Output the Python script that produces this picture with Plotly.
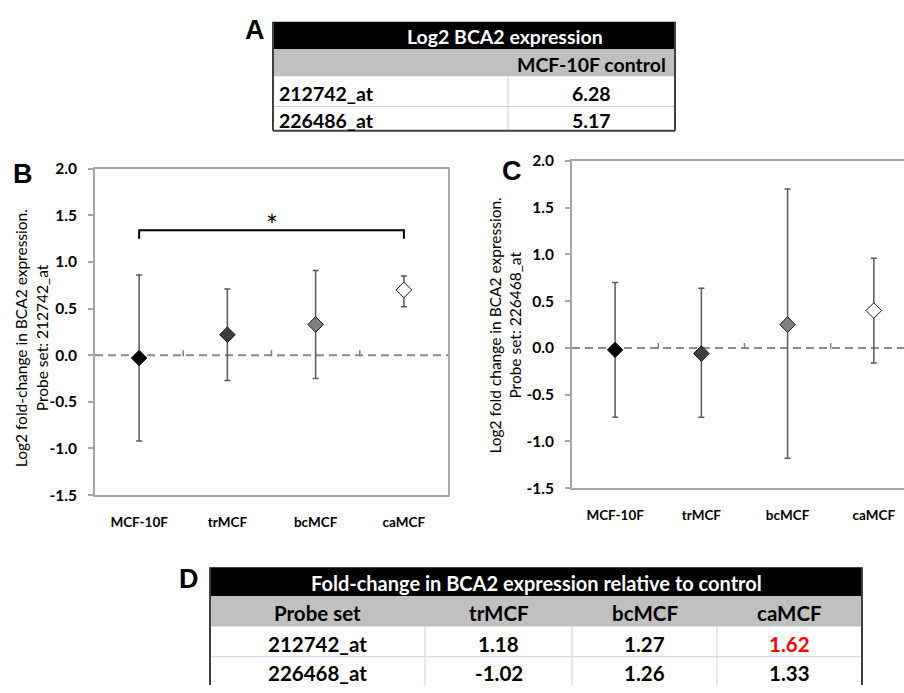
import plotly.graph_objects as go

W, H = 904, 693

# ---------------- data ----------------
categories = ["MCF-10F", "trMCF", "bcMCF", "caMCF"]

b_mean = [-0.03, 0.22, 0.33, 0.70]
b_low = [-0.92, -0.27, -0.25, 0.52]
b_high = [0.86, 0.71, 0.91, 0.85]

c_mean = [-0.02, -0.06, 0.25, 0.40]
c_low = [-0.74, -0.74, -1.18, -0.16]
c_high = [0.70, 0.64, 1.70, 0.96]

marker_colors = ["#000000", "#404040", "#7f7f7f", "#ffffff"]
y_ticks = [-1.5, -1.0, -0.5, 0.0, 0.5, 1.0, 1.5, 2.0]

bracket_top = 1.34
bracket_foot = 1.25
star_y = 1.40

tableA_title = "Log2 BCA2 expression"
tableA_column = "MCF-10F control"
tableA_probes = ["212742_at", "226486_at"]
tableA_values = [6.28, 5.17]

tableD_title = "Fold-change in BCA2 expression relative to control"
tableD_columns = ["Probe set", "trMCF", "bcMCF", "caMCF"]
tableD_probes = ["212742_at", "226468_at"]
tableD_trMCF = [1.18, -1.02]
tableD_bcMCF = [1.27, 1.26]
tableD_caMCF = [1.62, 1.33]
tableD_significant = [[False, False, True], [False, False, False]]

# ---------------- helpers ----------------
FONT = "Lato"
FRAME = "#a6a6a6"


def px(x):
    return x / W


def py(y):
    return 1 - y / H


shapes = []
annotations = []


def rect(x0, y0, x1, y1, fill):
    shapes.append(dict(type="rect", xref="paper", yref="paper",
                       x0=px(x0), x1=px(x1), y0=py(y1), y1=py(y0),
                       fillcolor=fill, line=dict(width=0), layer="above"))


def hline(x0, x1, y, color, width):
    shapes.append(dict(type="line", xref="paper", yref="paper",
                       x0=px(x0), x1=px(x1), y0=py(y), y1=py(y),
                       line=dict(color=color, width=width), layer="above"))


def vline(x, y0, y1, color, width):
    shapes.append(dict(type="line", xref="paper", yref="paper",
                       x0=px(x), x1=px(x), y0=py(y0), y1=py(y1),
                       line=dict(color=color, width=width), layer="above"))


def text(x, y, s, size=20, color="#000000", bold=True, xanchor="center", family=FONT):
    annotations.append(dict(x=px(x), y=py(y), xref="paper", yref="paper",
                            text=s, showarrow=False, xanchor=xanchor, yanchor="middle",
                            font=dict(family=family, size=size, color=color,
                                      weight="bold" if bold else "normal")))


GRID = "#c9d1e6"
OUTLINE = "#404040"

# ---------------- table A ----------------
aL, aR, aS = 273, 675, 508
aRows = [12, 40, 68, 99, 124]
rect(aL, aRows[0], aR, aRows[1], "#000000")
rect(aL, aRows[1], aR, aRows[2], "#c0c0c0")
hline(aL, aR, aRows[3], GRID, 1)
vline(aS, aRows[2], aRows[4], GRID, 1)
vline(aL, aRows[0], aRows[4], OUTLINE, 2)
vline(aR, aRows[0], aRows[4], OUTLINE, 2)
hline(aL, aR, aRows[4], OUTLINE, 2)
text(505, 27, tableA_title, size=19.5, color="#ffffff")
text((aS + aR) / 2, 56, tableA_column, size=19.5)
for i, (p, v) in enumerate(zip(tableA_probes, tableA_values)):
    yc = (aRows[2 + i] + aRows[3 + i]) / 2 + 2
    text(aL + 4, yc, p, size=19.5, xanchor="left")
    text((aS + aR) / 2, yc, f"{v:.2f}", size=19.5)

# ---------------- table D ----------------
dL, dR = 210, 862
dCols = [210, 425, 572, 717, 862]
dRows = [572, 602, 633, 664, 693]
rect(dL, dRows[0], dR, dRows[1], "#000000")
rect(dL, dRows[1], dR, dRows[2], "#c0c0c0")
hline(dL, dR, dRows[3], GRID, 1)
for cx in dCols[1:-1]:
    vline(cx, dRows[2], dRows[4], GRID, 1)
vline(dL, dRows[0], dRows[4], OUTLINE, 2)
vline(dR, dRows[0], dRows[4], OUTLINE, 2)
text((dL + dR) / 2, 588, tableD_title, size=20, color="#ffffff")
for j, c in enumerate(tableD_columns):
    text((dCols[j] + dCols[j + 1]) / 2, 619, c, size=20.5)
for i, p in enumerate(tableD_probes):
    yc = (dRows[2 + i] + dRows[3 + i]) / 2 + 2
    text((dCols[0] + dCols[1]) / 2, yc, p, size=20.5)
    vals = [tableD_trMCF[i], tableD_bcMCF[i], tableD_caMCF[i]]
    for j, v in enumerate(vals):
        col = "#ff0000" if tableD_significant[i][j] else "#000000"
        text((dCols[j + 1] + dCols[j + 2]) / 2, yc, f"{v:.2f}", size=20.5, color=col)

# ---------------- panel letters ----------------
for letter, x, y in [("A", 255, 21), ("B", 23, 168), ("C", 512, 165), ("D", 189, 584)]:
    text(x, y, letter, size=27, family="Liberation Sans")

# ---------------- charts ----------------
fig = go.Figure()


def panel(mean, low, high, xa, ya):
    fig.add_trace(go.Scatter(
        x=categories, y=mean, mode="markers", xaxis=xa, yaxis=ya,
        marker=dict(symbol="diamond", size=12, color=marker_colors,
                    line=dict(color="#1a1a1a", width=1)),
        error_y=dict(type="data", symmetric=False,
                     array=[h - m for h, m in zip(high, mean)],
                     arrayminus=[m - l for m, l in zip(mean, low)],
                     color="#595959", thickness=1.5, width=3),
        showlegend=False, hoverinfo="x+y"))
    xr = "x" if xa == "x" else "x2"
    yr = "y" if ya == "y" else "y2"
    shapes.append(dict(type="line", xref=xr + " domain", yref=yr, x0=0, x1=1, y0=0, y1=0,
                       line=dict(color="#8c8c8c", width=2, dash="8px,5px"), layer="below"))
    for k in range(1, len(categories)):
        shapes.append(dict(type="line", xref=xr, yref=yr, ysizemode="pixel", yanchor=0,
                           x0=k - 0.5, x1=k - 0.5, y0=-1, y1=5,
                           line=dict(color="#7f7f7f", width=1.5), layer="above"))


panel(b_mean, b_low, b_high, "x", "y")
panel(c_mean, c_low, c_high, "x2", "y2")

# bracket + star on panel B
fig.add_trace(go.Scatter(
    x=[categories[0], categories[0], categories[-1], categories[-1]],
    y=[bracket_foot, bracket_top, bracket_top, bracket_foot],
    mode="lines", line=dict(color="#000000", width=2), xaxis="x", yaxis="y",
    showlegend=False, hoverinfo="skip"))
annotations.append(dict(x=1.5, y=star_y, xref="x", yref="y", text="*", showarrow=False,
                        yanchor="middle", font=dict(family=FONT, size=28, color="#000000")))

# y-axis titles
for x, y, s in [(21, 337, "Log2 fold-change in BCA2 expression."),
                (42, 337, "Probe set: 212742_at"),
                (495, 324, "Log2 fold change in BCA2 expression."),
                (515, 324, "Probe set: 226468_at")]:
    annotations.append(dict(x=px(x), y=py(y), xref="paper", yref="paper", text=s,
                            showarrow=False, textangle=-90, xanchor="center", yanchor="middle",
                            font=dict(family=FONT, size=15.5, color="#000000")))

xcommon = dict(type="category", showline=True, linecolor=FRAME, linewidth=2, mirror=True,
               ticks="", showgrid=False, zeroline=False, ticklabelstandoff=14,
               tickfont=dict(family=FONT, size=13.5, color="#000000", weight="bold"))
ycommon = dict(range=[-1.5, 2.0], tickvals=y_ticks, ticktext=[f"{v:.1f}" for v in y_ticks],
               ticks="outside", ticklen=5, tickcolor=FRAME, tickwidth=1.5,
               showline=True, linecolor=FRAME, linewidth=2, showgrid=False, zeroline=False,
               ticklabelstandoff=8,
               tickfont=dict(family=FONT, size=15.5, color="#000000", weight="bold"))

fig.update_layout(
    width=W, height=H, margin=dict(l=0, r=0, t=0, b=0),
    paper_bgcolor="#ffffff", plot_bgcolor="#ffffff",
    xaxis=dict(domain=[px(95), px(448)], range=[-0.5, 3.5], anchor="y", **xcommon),
    yaxis=dict(domain=[py(498), py(163)], anchor="x", mirror=True, **ycommon),
    xaxis2=dict(domain=[px(572), 1.0], range=[-0.5, 3.35], anchor="y2", **xcommon),
    yaxis2=dict(domain=[py(491), py(155)], anchor="x2", mirror=False, **ycommon),
    shapes=shapes, annotations=annotations,
)

fig.write_html("out.html")
